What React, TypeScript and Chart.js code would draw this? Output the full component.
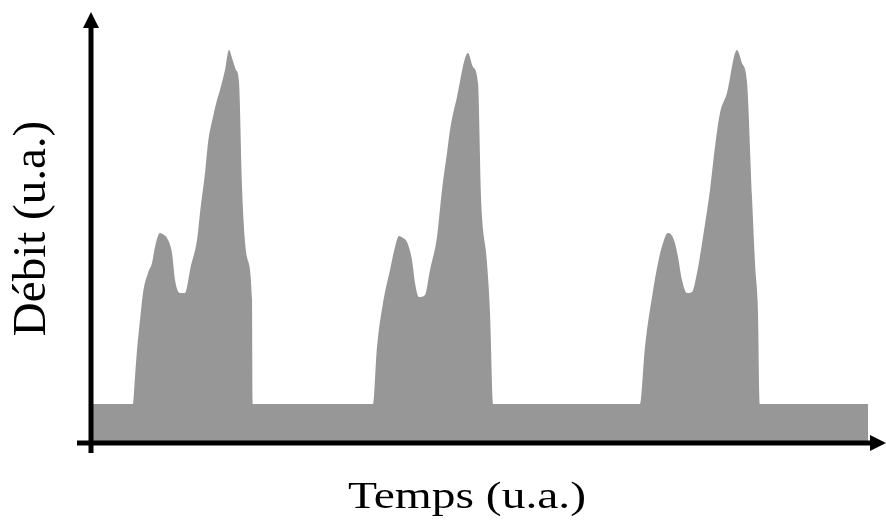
import React, { useEffect, useRef } from "react";
import { Chart, registerables } from "chart.js";

Chart.register(...registerables);

// Time (u.a.) and flow (u.a.)
const baseStart = [0];
const cycle1Time = [42, 44, 46, 49, 52, 57, 61, 64, 69, 73, 76, 81, 84, 89, 94, 96, 99, 106, 109, 114, 117, 122, 126, 129, 134, 138, 141, 145, 148, 151, 156, 161, 162];
const cycle1Flow = [39, 66, 93, 123, 150, 170, 180, 196, 210, 208, 205, 190, 163, 150, 150, 156, 173, 203, 230, 270, 300, 326, 343, 353, 373, 393, 385, 373, 361, 256, 186, 143, 39];
const cycle2Time = [282, 286, 292, 299, 304, 308, 312, 316, 321, 324, 328, 334, 339, 346, 351, 356, 359, 366, 377, 382, 387, 390, 396, 399, 402];
const cycle2Flow = [39, 96, 140, 173, 196, 207, 205, 201, 183, 160, 146, 148, 173, 206, 253, 290, 313, 346, 390, 376, 360, 246, 180, 130, 39];
const cycle3Time = [549, 554, 561, 567, 572, 577, 583, 587, 591, 596, 601, 606, 612, 619, 624, 629, 636, 646, 651, 656, 661, 664, 667, 669];
const cycle3Flow = [39, 96, 146, 180, 200, 210, 203, 186, 163, 150, 151, 170, 206, 253, 296, 330, 350, 393, 380, 361, 246, 180, 130, 39];
const baseEnd = [777];
const baseFlow = 39;

const xTitle = "Temps (u.a.)";
const yTitle = "Débit (u.a.)";

function buildPoints() {
  const pts: { x: number; y: number }[] = [];
  baseStart.forEach((t) => pts.push({ x: t, y: baseFlow }));
  cycle1Time.forEach((t, i) => pts.push({ x: t, y: cycle1Flow[i] }));
  cycle2Time.forEach((t, i) => pts.push({ x: t, y: cycle2Flow[i] }));
  cycle3Time.forEach((t, i) => pts.push({ x: t, y: cycle3Flow[i] }));
  baseEnd.forEach((t) => pts.push({ x: t, y: baseFlow }));
  return pts;
}

const axesPlugin = {
  id: "arrowAxes",
  afterDatasetsDraw(chart: any) {
    const { ctx } = chart;
    const xs = chart.scales.x;
    const ys = chart.scales.y;
    const x0 = xs.getPixelForValue(0);
    const y0 = ys.getPixelForValue(0);
    const xEnd = xs.right;
    const yTop = ys.top;
    ctx.save();
    ctx.strokeStyle = "#000";
    ctx.fillStyle = "#000";
    ctx.lineWidth = 5;
    // y axis
    ctx.beginPath();
    ctx.moveTo(x0, y0 + 10);
    ctx.lineTo(x0, yTop + 12);
    ctx.stroke();
    ctx.beginPath();
    ctx.moveTo(x0, yTop);
    ctx.lineTo(x0 - 8, yTop + 16);
    ctx.lineTo(x0 + 8, yTop + 16);
    ctx.closePath();
    ctx.fill();
    // x axis
    ctx.beginPath();
    ctx.moveTo(x0 - 14, y0);
    ctx.lineTo(xEnd - 10, y0);
    ctx.stroke();
    ctx.beginPath();
    ctx.moveTo(xEnd, y0);
    ctx.lineTo(xEnd - 16, y0 - 8);
    ctx.lineTo(xEnd - 16, y0 + 8);
    ctx.closePath();
    ctx.fill();

    // titles
    ctx.fillStyle = "#000";
    ctx.textAlign = "center";
    ctx.textBaseline = "alphabetic";
    ctx.save();
    ctx.translate(45, (ys.top + y0) / 2 + 1);
    ctx.rotate(-Math.PI / 2);
    ctx.font = '47px "Liberation Serif", "Times New Roman", serif';
    ctx.fillText(yTitle, 0, 0);
    ctx.restore();

    ctx.save();
    ctx.translate(467, 508);
    ctx.scale(1.25, 1);
    ctx.font = '38px "Liberation Serif", "Times New Roman", serif';
    ctx.fillText(xTitle, 0, 0);
    ctx.restore();
    ctx.restore();
  },
};

export default function App() {
  const ref = useRef<HTMLCanvasElement | null>(null);
  useEffect(() => {
    if (!ref.current) return;
    const chart = new Chart(ref.current, {
      type: "line",
      data: {
        datasets: [
          {
            data: buildPoints(),
            borderWidth: 0,
            borderColor: "rgba(0,0,0,0)",
            backgroundColor: "#979797",
            fill: "origin",
            pointRadius: 0,
            cubicInterpolationMode: "monotone",
          },
        ],
      },
      options: {
        animation: false,
        responsive: false,
        layout: { padding: { left: 91, right: 0, top: 12, bottom: 82 } },
        plugins: { legend: { display: false }, tooltip: { enabled: false }, title: { display: false } },
        scales: {
          x: { type: "linear", min: 0, max: 795, display: false },
          y: { type: "linear", min: 0, max: 431, display: false },
        },
      },
      plugins: [axesPlugin],
    });
    return () => chart.destroy();
  }, []);
  return (
    <div style={{ position: "absolute", left: 0, top: 0, width: 886, height: 525, background: "#fff" }}>
      <canvas ref={ref} width={886} height={525} style={{ display: "block" }} />
    </div>
  );
}
